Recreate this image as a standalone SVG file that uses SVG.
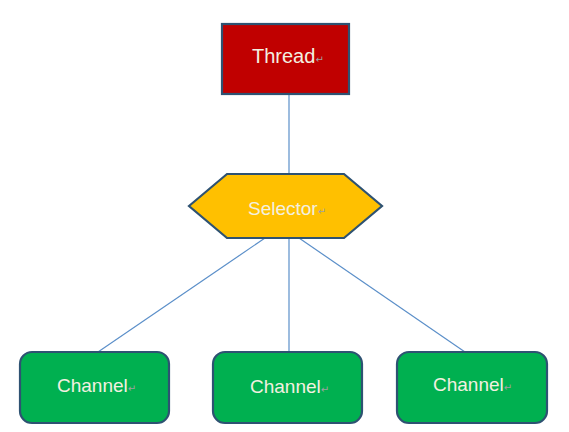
<svg xmlns="http://www.w3.org/2000/svg" width="569" height="432" viewBox="0 0 569 432">
<style>
.lbl{font-family:"Liberation Sans","Open Sans",Arial,sans-serif;fill:#f3f0e0}
.ret{font-family:"DejaVu Sans",sans-serif;font-size:10px;fill:#a0a0a0}
.edge{stroke:#5b8fc9;stroke-width:1.2;fill:none}
.node{stroke:#2e5272;stroke-width:2.2}
</style>
<rect width="569" height="432" fill="#ffffff"/>
<g id="connectors">
<line class="edge" x1="289" y1="94" x2="289" y2="174"/>
<line class="edge" x1="265" y1="238" x2="98" y2="352"/>
<line class="edge" x1="289" y1="238" x2="289" y2="352"/>
<line class="edge" x1="299" y1="238" x2="465" y2="352"/>
</g>
<g id="thread">
<rect class="node" x="222" y="24" width="127" height="70" fill="#c00000"/>
<text class="lbl" x="252" y="63" font-size="20">Thread<tspan class="ret">↵</tspan></text>
</g>
<g id="selector">
<polygon class="node" points="189,206 227,174 344,174 382,206 344,238 227,238" fill="#ffc000"/>
<text class="lbl" x="248" y="215" font-size="19">Selector<tspan class="ret">↵</tspan></text>
</g>
<g id="channel1">
<rect class="node" x="20" y="352" width="149" height="71" rx="12" fill="#00b050"/>
<text class="lbl" x="57" y="392" font-size="19">Channel<tspan class="ret">↵</tspan></text>
</g>
<g id="channel2">
<rect class="node" x="213" y="352" width="149" height="71" rx="12" fill="#00b050"/>
<text class="lbl" x="250" y="393" font-size="19">Channel<tspan class="ret">↵</tspan></text>
</g>
<g id="channel3">
<rect class="node" x="397" y="352" width="150" height="71" rx="12" fill="#00b050"/>
<text class="lbl" x="433" y="391" font-size="19">Channel<tspan class="ret">↵</tspan></text>
</g>
</svg>
